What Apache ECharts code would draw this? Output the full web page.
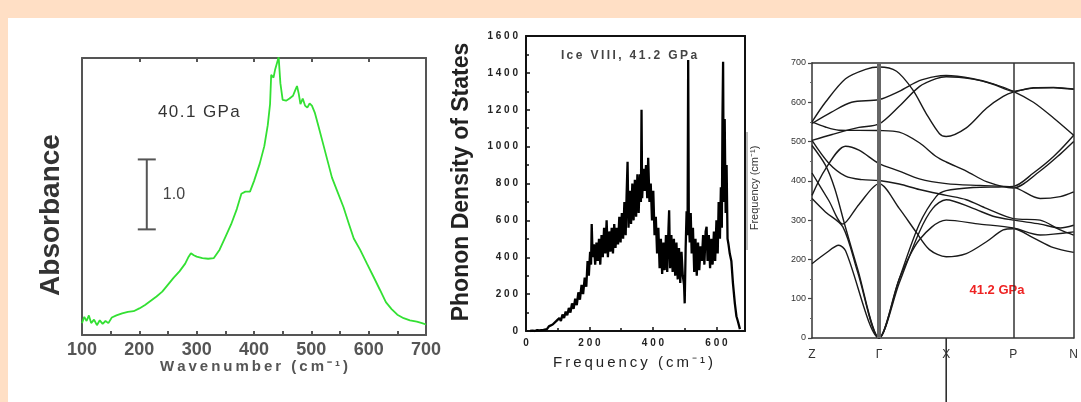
<!DOCTYPE html>
<html><head><meta charset="utf-8">
<script src="https://cdn.jsdelivr.net/npm/echarts@6/dist/echarts.min.js"></script>
<style>
html,body{margin:0;padding:0;background:#FFDFC5;width:1081px;height:402px;overflow:hidden}
#paper{position:absolute;left:8px;top:18px;right:0;bottom:0;background:#fff}
#main{position:absolute;left:0;top:0;width:1081px;height:402px}
</style></head><body><div id="paper"></div><div id="main"></div>
<script>
// ---------- Panel 1: IR absorbance, 40.1 GPa ----------
const absWavenumber = [100,104,108,112,116,121,126,131,136,141,146,152,160,170,180,190,200,210,220,230,240,250,260,270,280,286,290,295,300,310,320,330,340,350,360,370,378,385,393,400,410,418,424,428,430,434,437,440,443,446,450,456,462,468,472,475,478,481,485,489,493,497,501,506,512,520,528,536,545,556,565,574,585,597,608,620,630,640,650,661,672,684,693,700];
const absorbance   = [0.17,0.26,0.20,0.28,0.17,0.22,0.14,0.21,0.16,0.20,0.17,0.25,0.28,0.31,0.33,0.34,0.38,0.43,0.49,0.55,0.62,0.72,0.82,0.91,1.02,1.12,1.17,1.14,1.12,1.10,1.09,1.10,1.22,1.40,1.58,1.80,2.02,2.05,2.05,2.20,2.45,2.70,3.00,3.30,3.72,3.68,3.80,3.78,3.97,3.60,3.36,3.35,3.38,3.42,3.50,3.56,3.45,3.30,3.38,3.28,3.25,3.31,3.28,3.18,3.00,2.75,2.50,2.25,2.06,1.83,1.60,1.38,1.22,1.02,0.84,0.64,0.47,0.37,0.29,0.24,0.21,0.19,0.17,0.15];
const absTicks = [100,200,300,400,500,600,700];
const scaleBar = [213, 1.51, 2.51]; // x, low, high (1.0 absorbance unit)

// ---------- Panel 2: phonon DOS, Ice VIII 41.2 GPa ----------
const dosFreq = [13,20,28,35,42,48,55,60,66,72,78,84,90,96,100,105,110,115,120,125,130,135,140,145,150,155,160,165,170,175,180,185,190,194,198,202,205,207,210,214,218,222,226,230,234,238,242,246,250,254,258,262,266,270,274,278,282,286,290,294,298,302,306,310,314,317,320,323,327,331,335,339,343,347,351,355,359,362,364,366,370,374,378,382,385,389,393,397,401,405,409,413,417,421,425,429,433,437,441,445,449,451,454,458,462,466,470,474,478,482,486,490,494,498,500,503,506,509,511,513,516,519,522,526,530,534,538,542,546,550,554,558,562,566,569,572,576,580,584,588,592,596,600,604,607,611,614,617,619,621,623,626,629,632,635,638,642,647,652,658,663,668,674];
const dosValue = [0,2,0,5,3,10,6,15,10,25,18,35,28,55,45,70,55,90,70,105,85,125,100,150,120,175,140,210,170,250,200,290,240,380,300,430,360,580,400,470,360,480,380,500,360,520,400,560,420,600,400,540,430,560,420,580,450,560,470,620,480,640,500,700,520,740,918,560,760,580,800,600,820,620,850,640,850,700,1200,720,880,760,900,720,940,700,800,600,760,520,620,420,560,340,500,310,480,330,520,320,560,655,340,520,320,500,300,480,280,450,260,430,300,250,150,450,650,520,1470,600,480,640,420,560,320,500,300,480,330,460,380,520,360,540,565,380,520,340,500,360,540,380,600,420,700,500,780,560,1150,1460,700,1150,640,900,500,470,420,380,260,150,80,50,10];

// ---------- Panel 3: phonon dispersion ----------
const symPos = [0, 1, 2, 3, 3.9];
const symLabels = ['Z', 'Γ', 'X', 'P', 'N'];
const band1  = [[0,550],[0.2,600],[0.5,660],[0.8,684],[1,690],[1.26,679],[1.5,632],[1.7,572],[1.9,520],[2,513],[2.3,535],[2.6,585],[2.85,615],[3,626],[3.3,636],[3.6,637],[3.9,633]];
const band2  = [[0,546],[0.29,575],[0.59,600],[1,607],[1.3,628],[1.6,655],[1.85,666],[2,668],[2.4,660],[2.7,647],[3,628],[3.3,600],[3.6,560],[3.9,516]];
const band3  = [[0,550],[0.2,537],[0.4,529],[1,528],[1.3,524],[1.6,497],[1.85,462],[2,448],[2.3,425],[2.6,398],[3,382],[3.4,425],[3.7,468],[3.9,500]];
const band4  = [[0,503],[0.3,518],[0.7,536],[1,545],[1.3,590],[1.6,640],[1.85,660],[2,665],[2.4,659],[2.7,646],[3,628],[3.3,637],[3.6,638],[3.9,634]];
const band5  = [[0,363],[0.2,430],[0.5,488],[0.7,478],[1,444],[1.3,425],[1.6,405],[2,393],[2.5,388],[3,384],[3.4,355],[3.7,360],[3.9,372]];
const band6  = [[0,503],[0.25,445],[0.5,412],[0.75,403],[1,401],[1.3,392],[1.6,378],[2,363],[2.3,352],[2.6,330],[3,304],[3.4,300],[3.7,275],[3.9,262]];
const band7  = [[0,420],[0.25,350],[0.46,290],[0.7,340],[1,393],[1.3,330],[1.55,270],[1.75,225],[2,207],[2.3,215],[2.6,245],[2.85,275],[3,278],[3.3,255],[3.6,230],[3.9,218]];
const band8  = [[0,490],[0.2,440],[0.34,380],[0.49,287],[0.68,176],[1,0],[1.3,150],[1.6,290],[1.85,360],[2,375],[2.4,383],[3,386],[3.3,420],[3.6,462],[3.9,516]];
const band9  = [[0,355],[0.2,321],[0.46,283],[0.68,168],[1,0],[1.3,140],[1.6,270],[1.8,330],[2,352],[2.4,330],[2.7,310],[3,300],[3.4,290],[3.7,280],[3.9,287]];
const band10 = [[0,189],[0.2,215],[0.4,236],[0.5,222],[1,0],[1.3,150],[1.6,250],[2,300],[2.5,290],[3,280],[3.4,262],[3.9,270]];
const bands = [band1,band2,band3,band4,band5,band6,band7,band8,band9,band10];

const FONT = "'Liberation Sans', Arial, sans-serif";
const sp = (s, ch) => s.split('').join(ch || '\u2009');

const chart = echarts.init(document.getElementById('main'), null, {renderer: 'canvas'});

function frameAxis(grid, pos, color, w) {
  return {gridIndex: grid, position: pos, type: 'value', axisLine: {show: true, onZero: false, lineStyle: {color: color, width: w}},
    axisTick: {show: false}, axisLabel: {show: false}, splitLine: {show: false}};
}

const option = {
  animation: false,
  grid: [
    {left: 82, top: 58, width: 344, height: 277},
    {left: 526, top: 36, width: 219, height: 295},
    {left: 812, top: 63, width: 263, height: 275}
  ],
  xAxis: [
    {gridIndex: 0, type: 'value', min: 100, max: 700, interval: 100, position: 'bottom',
      axisLine: {onZero: false, lineStyle: {color: '#555', width: 2}},
      axisTick: {inside: true, length: 4, lineStyle: {color: '#555', width: 2}},
      minorTick: {show: true, splitNumber: 2, length: 4, lineStyle: {color: '#555', width: 2}},
      axisLabel: {fontFamily: FONT, fontSize: 18, fontWeight: 'bold', color: '#555', margin: 6,
        formatter: v => absTicks.indexOf(v) >= 0 ? String(v) : ''},
      splitLine: {show: false}},
    {gridIndex: 0, type: 'value', min: 100, max: 700, interval: 100, position: 'top',
      axisLine: {onZero: false, lineStyle: {color: '#555', width: 2}},
      axisTick: {inside: true, length: 4, lineStyle: {color: '#555', width: 2}},
      axisLabel: {show: false}, splitLine: {show: false}},
    {gridIndex: 1, type: 'value', min: 0, max: 690, interval: 200, position: 'bottom',
      axisLine: {onZero: false, lineStyle: {color: '#111', width: 2}},
      axisTick: {inside: true, length: 4, lineStyle: {color: '#111', width: 1.5}},
      minorTick: {show: true, splitNumber: 2, length: 3, lineStyle: {color: '#111', width: 1.5}},
      axisLabel: {fontFamily: FONT, fontSize: 10, fontWeight: 'bold', color: '#222', margin: 7,
        formatter: v => v % 200 === 0 ? sp(String(v), ' ') : ''},
      splitLine: {show: false}},
    Object.assign(frameAxis(1, 'top', '#111', 2), {min: 0, max: 690}),
    {gridIndex: 2, type: 'value', min: 0, max: 3.9, interval: 1, position: 'bottom',
      axisLine: {onZero: false, lineStyle: {color: '#333', width: 1.5}},
      axisTick: {show: false},
      axisLabel: {fontFamily: FONT, fontSize: 12, color: '#333', margin: 11,
        formatter: v => { const i = symPos.indexOf(v); return i >= 0 ? symLabels[i] : ''; }},
      splitLine: {show: false}},
    Object.assign(frameAxis(2, 'top', '#333', 1.5), {min: 0, max: 3.9})
  ],
  yAxis: [
    {gridIndex: 0, type: 'value', min: 0, max: 3.96, position: 'left',
      axisLine: {show: true, onZero: false, lineStyle: {color: '#555', width: 2}},
      axisTick: {show: false}, axisLabel: {show: false}, splitLine: {show: false}},
    Object.assign(frameAxis(0, 'right', '#555', 2), {min: 0, max: 3.96}),
    {gridIndex: 1, type: 'value', min: 0, max: 1600, interval: 200, position: 'left',
      axisLine: {show: true, onZero: false, lineStyle: {color: '#111', width: 2}},
      axisTick: {inside: true, length: 4, lineStyle: {color: '#111', width: 1.5}},
      minorTick: {show: true, splitNumber: 2, length: 3, lineStyle: {color: '#111', width: 1.5}},
      axisLabel: {fontFamily: FONT, fontSize: 10, fontWeight: 'bold', color: '#222', margin: 8,
        formatter: v => sp(String(v), ' ')},
      splitLine: {show: false}},
    Object.assign(frameAxis(1, 'right', '#111', 2), {min: 0, max: 1600}),
    {gridIndex: 2, type: 'value', min: 0, max: 700, interval: 100, position: 'left',
      axisLine: {show: true, onZero: false, lineStyle: {color: '#333', width: 1.5}},
      axisTick: {inside: false, length: 4, lineStyle: {color: '#444', width: 1.2}},
      minorTick: {show: true, splitNumber: 2, length: 2, lineStyle: {color: '#666', width: 1}},
      axisLabel: {fontFamily: FONT, fontSize: 9, color: '#333', margin: 6},
      splitLine: {show: false}},
    Object.assign(frameAxis(2, 'right', '#333', 1.5), {min: 0, max: 700})
  ],
  series: [
    {type: 'line', xAxisIndex: 0, yAxisIndex: 0, symbol: 'none', silent: true,
      data: absWavenumber.map((x, i) => [x, absorbance[i]]),
      lineStyle: {color: '#33E033', width: 1.8}},
    {type: 'custom', xAxisIndex: 0, yAxisIndex: 0, silent: true, data: [scaleBar],
      renderItem: function (params, api) {
        const top = api.coord([api.value(0), api.value(2)]);
        const bot = api.coord([api.value(0), api.value(1)]);
        const st = {stroke: '#555', lineWidth: 2};
        return {type: 'group', children: [
          {type: 'line', shape: {x1: top[0], y1: top[1], x2: bot[0], y2: bot[1]}, style: st},
          {type: 'line', shape: {x1: top[0] - 9, y1: top[1], x2: top[0] + 9, y2: top[1]}, style: st},
          {type: 'line', shape: {x1: bot[0] - 9, y1: bot[1], x2: bot[0] + 9, y2: bot[1]}, style: st},
          {type: 'text', x: top[0] + 16, y: (top[1] + bot[1]) / 2,
            style: {text: '1.0', font: '16px ' + FONT, fill: '#444', verticalAlign: 'middle', align: 'left'}}
        ]};
      }},
    {type: 'line', xAxisIndex: 2, yAxisIndex: 2, symbol: 'none', silent: true,
      data: dosFreq.map((x, i) => [x, dosValue[i]]),
      lineStyle: {color: '#000', width: 2.3}},
    {type: 'line', xAxisIndex: 4, yAxisIndex: 4, symbol: 'none', silent: true, data: [],
      markLine: {silent: true, symbol: 'none', label: {show: false},
        data: [
          {xAxis: symPos[1], lineStyle: {color: '#666', width: 4, type: 'solid'}},
          {xAxis: symPos[3], lineStyle: {color: '#333', width: 1.5, type: 'solid'}}
        ]}}
  ].concat(bands.map(b => ({
    type: 'line', xAxisIndex: 4, yAxisIndex: 4, symbol: 'none', silent: true, smooth: 0.3,
    data: b, lineStyle: {color: '#1a1a1a', width: 1.4}
  })))
};
chart.setOption(option);

const xp = chart.convertToPixel({xAxisIndex: 4, yAxisIndex: 4}, [symPos[2], 0]);
chart.setOption({
  graphic: [
    {type: 'text', x: 51, y: 215, rotation: Math.PI / 2,
      style: {text: 'Absorbance', font: 'bold 28px ' + FONT, fill: '#333', align: 'center', verticalAlign: 'middle'}},
    {type: 'text', x: 254, y: 367,
      style: {text: sp('Wavenumber (cm⁻¹)'), font: 'bold 15px ' + FONT, fill: '#555', align: 'center', verticalAlign: 'middle'}},
    {type: 'text', x: 158, y: 112,
      style: {text: sp('40.1 GPa', '\u200A'), font: '17px ' + FONT, fill: '#333', align: 'left', verticalAlign: 'middle'}},
    {type: 'text', x: 462, y: 182, rotation: Math.PI / 2,
      style: {text: 'Phonon Density of States', font: 'bold 23px ' + FONT, fill: '#222', align: 'center', verticalAlign: 'middle'}},
    {type: 'text', x: 633, y: 363,
      style: {text: sp('Frequency (cm⁻¹)'), font: '15px ' + FONT, fill: '#222', align: 'center', verticalAlign: 'middle'}},
    {type: 'text', x: 629, y: 56,
      style: {text: sp('Ice VIII, 41.2 GPa'), font: 'bold 12px ' + FONT, fill: '#444', align: 'center', verticalAlign: 'middle'}},
    {type: 'text', x: 755, y: 188, rotation: Math.PI / 2,
      style: {text: 'Frequency (cm⁻¹)', font: '11px ' + FONT, fill: '#333', align: 'center', verticalAlign: 'middle'}},
    {type: 'line', shape: {x1: 747, y1: 132, x2: 747, y2: 250}, style: {stroke: '#777', lineWidth: 1}},
    {type: 'text', x: 997, y: 290,
      style: {text: '41.2 GPa', font: 'bold 13px ' + FONT, fill: '#EE2222', align: 'center', verticalAlign: 'middle'}},
    {type: 'line', shape: {x1: xp[0], y1: xp[1], x2: xp[0], y2: 402}, style: {stroke: '#222', lineWidth: 1.5}}
  ]
});
</script></body></html>
